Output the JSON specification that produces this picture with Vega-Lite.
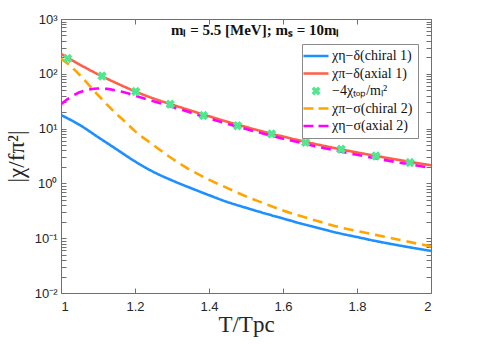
{
  "$schema": "https://vega.github.io/schema/vega-lite/v6.json",
  "width": 370,
  "height": 274,
  "autosize": "none",
  "padding": {"left": 61, "top": 19, "right": 60, "bottom": 51},
  "background": "white",
  "config": {
    "view": {"stroke": null},
    "axis": {"domainColor": "#707070", "tickColor": "#707070", "labelColor": "#262626", "labelFont": "Liberation Sans", "labelFontSize": 13, "titleFont": "Liberation Serif", "titleFontWeight": "normal", "titleColor": "#262626", "grid": false}
  },
  "title": {
    "text": "mₗ = 5.5 [MeV]; mₛ = 10mₗ",
    "font": "Liberation Serif",
    "fontSize": 15,
    "fontWeight": "bold",
    "color": "#111",
    "anchor": "start",
    "frame": "group",
    "dx": 110,
    "offset": -25
  },
  "data": {
    "values": [
      {"s": "chiral 1", "x": 1.00, "y": 17.7},
      {"s": "chiral 1", "x": 1.05, "y": 11.7},
      {"s": "chiral 1", "x": 1.10, "y": 7.0},
      {"s": "chiral 1", "x": 1.15, "y": 4.2},
      {"s": "chiral 1", "x": 1.20, "y": 2.52},
      {"s": "chiral 1", "x": 1.25, "y": 1.62},
      {"s": "chiral 1", "x": 1.30, "y": 1.135},
      {"s": "chiral 1", "x": 1.35, "y": 0.826},
      {"s": "chiral 1", "x": 1.40, "y": 0.61},
      {"s": "chiral 1", "x": 1.45, "y": 0.457},
      {"s": "chiral 1", "x": 1.50, "y": 0.359},
      {"s": "chiral 1", "x": 1.55, "y": 0.285},
      {"s": "chiral 1", "x": 1.60, "y": 0.229},
      {"s": "chiral 1", "x": 1.65, "y": 0.184},
      {"s": "chiral 1", "x": 1.70, "y": 0.151},
      {"s": "chiral 1", "x": 1.75, "y": 0.124},
      {"s": "chiral 1", "x": 1.80, "y": 0.105},
      {"s": "chiral 1", "x": 1.85, "y": 0.089},
      {"s": "chiral 1", "x": 1.90, "y": 0.0767},
      {"s": "chiral 1", "x": 1.95, "y": 0.0668},
      {"s": "chiral 1", "x": 2.00, "y": 0.0586},
      {"s": "axial 1", "x": 1.00, "y": 230},
      {"s": "axial 1", "x": 1.05, "y": 148},
      {"s": "axial 1", "x": 1.10, "y": 98},
      {"s": "axial 1", "x": 1.15, "y": 67.6},
      {"s": "axial 1", "x": 1.20, "y": 47.9},
      {"s": "axial 1", "x": 1.25, "y": 35.5},
      {"s": "axial 1", "x": 1.30, "y": 27.4},
      {"s": "axial 1", "x": 1.35, "y": 21.4},
      {"s": "axial 1", "x": 1.40, "y": 16.8},
      {"s": "axial 1", "x": 1.45, "y": 13.3},
      {"s": "axial 1", "x": 1.50, "y": 10.7},
      {"s": "axial 1", "x": 1.55, "y": 8.7},
      {"s": "axial 1", "x": 1.60, "y": 7.16},
      {"s": "axial 1", "x": 1.65, "y": 5.96},
      {"s": "axial 1", "x": 1.70, "y": 5.01},
      {"s": "axial 1", "x": 1.75, "y": 4.27},
      {"s": "axial 1", "x": 1.80, "y": 3.67},
      {"s": "axial 1", "x": 1.85, "y": 3.18},
      {"s": "axial 1", "x": 1.90, "y": 2.77},
      {"s": "axial 1", "x": 1.95, "y": 2.43},
      {"s": "axial 1", "x": 2.00, "y": 2.14},
      {"s": "top", "x": 1.018, "y": 190},
      {"s": "top", "x": 1.111, "y": 91},
      {"s": "top", "x": 1.202, "y": 47.5},
      {"s": "top", "x": 1.295, "y": 27.9},
      {"s": "top", "x": 1.385, "y": 17.3},
      {"s": "top", "x": 1.477, "y": 11.3},
      {"s": "top", "x": 1.569, "y": 8.0},
      {"s": "top", "x": 1.661, "y": 5.6},
      {"s": "top", "x": 1.757, "y": 4.2},
      {"s": "top", "x": 1.851, "y": 3.17},
      {"s": "top", "x": 1.943, "y": 2.4},
      {"s": "chiral 2", "x": 1.00, "y": 190},
      {"s": "chiral 2", "x": 1.025, "y": 140},
      {"s": "chiral 2", "x": 1.05, "y": 96},
      {"s": "chiral 2", "x": 1.075, "y": 63},
      {"s": "chiral 2", "x": 1.10, "y": 41},
      {"s": "chiral 2", "x": 1.125, "y": 27},
      {"s": "chiral 2", "x": 1.15, "y": 18.5},
      {"s": "chiral 2", "x": 1.175, "y": 13},
      {"s": "chiral 2", "x": 1.20, "y": 9.0},
      {"s": "chiral 2", "x": 1.25, "y": 5.0},
      {"s": "chiral 2", "x": 1.30, "y": 2.85},
      {"s": "chiral 2", "x": 1.35, "y": 1.75},
      {"s": "chiral 2", "x": 1.40, "y": 1.17},
      {"s": "chiral 2", "x": 1.45, "y": 0.82},
      {"s": "chiral 2", "x": 1.50, "y": 0.58},
      {"s": "chiral 2", "x": 1.55, "y": 0.43},
      {"s": "chiral 2", "x": 1.60, "y": 0.32},
      {"s": "chiral 2", "x": 1.65, "y": 0.251},
      {"s": "chiral 2", "x": 1.70, "y": 0.20},
      {"s": "chiral 2", "x": 1.75, "y": 0.16},
      {"s": "chiral 2", "x": 1.80, "y": 0.135},
      {"s": "chiral 2", "x": 1.85, "y": 0.115},
      {"s": "chiral 2", "x": 1.90, "y": 0.098},
      {"s": "chiral 2", "x": 1.95, "y": 0.083},
      {"s": "chiral 2", "x": 2.00, "y": 0.071},
      {"s": "axial 2", "x": 1.00, "y": 28},
      {"s": "axial 2", "x": 1.025, "y": 37},
      {"s": "axial 2", "x": 1.05, "y": 46},
      {"s": "axial 2", "x": 1.075, "y": 51.5},
      {"s": "axial 2", "x": 1.10, "y": 54},
      {"s": "axial 2", "x": 1.125, "y": 53},
      {"s": "axial 2", "x": 1.15, "y": 49.5},
      {"s": "axial 2", "x": 1.175, "y": 45},
      {"s": "axial 2", "x": 1.20, "y": 40},
      {"s": "axial 2", "x": 1.25, "y": 31.5},
      {"s": "axial 2", "x": 1.30, "y": 25},
      {"s": "axial 2", "x": 1.35, "y": 19.6},
      {"s": "axial 2", "x": 1.40, "y": 15.4},
      {"s": "axial 2", "x": 1.45, "y": 12.2},
      {"s": "axial 2", "x": 1.50, "y": 9.8},
      {"s": "axial 2", "x": 1.55, "y": 8.0},
      {"s": "axial 2", "x": 1.60, "y": 6.55},
      {"s": "axial 2", "x": 1.65, "y": 5.45},
      {"s": "axial 2", "x": 1.70, "y": 4.57},
      {"s": "axial 2", "x": 1.75, "y": 3.88},
      {"s": "axial 2", "x": 1.80, "y": 3.32},
      {"s": "axial 2", "x": 1.85, "y": 2.87},
      {"s": "axial 2", "x": 1.90, "y": 2.49},
      {"s": "axial 2", "x": 1.95, "y": 2.18},
      {"s": "axial 2", "x": 2.00, "y": 1.92}
    ]
  },
  "resolve": {"axis": {"x": "independent", "y": "independent"}},
  "layer": [
    {
      "transform": [{"filter": "datum.s !== 'top'"}],
      "mark": {"type": "line", "strokeWidth": 2.6, "interpolate": "monotone", "clip": true},
      "encoding": {
        "x": {
          "field": "x", "type": "quantitative",
          "scale": {"domain": [1, 2], "nice": false, "zero": false},
          "axis": {
            "orient": "bottom", "values": [1, 1.2, 1.4, 1.6, 1.8, 2], "format": "~g",
            "tickSize": -5, "labelPadding": 12, "title": "T/Tpc", "titleFontSize": 23, "titlePadding": 0
          }
        },
        "y": {
          "field": "y", "type": "quantitative",
          "scale": {"type": "log", "domain": [0.01, 1000], "nice": false},
          "axis": {
            "orient": "left",
            "values": [0.01, 0.02, 0.03, 0.04, 0.05, 0.06, 0.07, 0.08, 0.09, 0.1, 0.2, 0.3, 0.4, 0.5, 0.6, 0.7, 0.8, 0.9, 1, 2, 3, 4, 5, 6, 7, 8, 9, 10, 20, 30, 40, 50, 60, 70, 80, 90, 100, 200, 300, 400, 500, 600, 700, 800, 900, 1000],
            "labelExpr": "abs(log(datum.value)/LN10 - round(log(datum.value)/LN10)) < 0.000001 ? ['10⁻²','10⁻¹','10⁰','10¹','10²','10³'][round(log(datum.value)/LN10) + 2] : ''",
            "labelOverlap": false,
            "tickSize": -5, "labelPadding": 9,
            "title": "|χ/fπ²|", "titleFontSize": 23, "titlePadding": 6,
            "encode": {"ticks": {"update": {"x2": {"signal": "abs(log(datum.value)/LN10 - round(log(datum.value)/LN10)) < 0.000001 ? 5 : 3"}}}}
          }
        },
        "color": {
          "field": "s", "type": "nominal",
          "scale": {"domain": ["chiral 1", "axial 1", "top", "chiral 2", "axial 2"], "range": ["#1e8fff", "#ff5e48", "#4fe890", "#ffa500", "#ff00ff"]},
          "legend": {
            "orient": "none", "legendX": 241, "legendY": 25,
            "title": null,
            "labelExpr": "{'chiral 1': 'χη−δ(chiral 1)', 'axial 1': 'χπ−δ(axial 1)', 'top': '−4χₜₒₚ/mₗ²', 'chiral 2': 'χπ−σ(chiral 2)', 'axial 2': 'χη−σ(axial 2)'}[datum.value]",
            "labelFont": "Liberation Serif", "labelFontSize": 14, "labelColor": "#111",
            "symbolSize": 196, "symbolStrokeWidth": 2.6, "symbolOffset": 2, "labelOffset": 9,
            "rowPadding": 3.5, "padding": 5,
            "fillColor": "white", "strokeColor": "#8a8a8a",
            "encode": {
              "symbols": {
                "update": {
                  "shape": {"signal": "datum.value === 'top' ? 'cross' : 'stroke'"},
                  "size": {"signal": "datum.value === 'top' ? 80 : 625"},
                  "angle": {"signal": "datum.value === 'top' ? 45 : 0"},
                  "fill": {"signal": "datum.value === 'top' ? '#4fe890' : 'transparent'"},
                  "strokeDash": {"signal": "(datum.value === 'chiral 2' || datum.value === 'axial 2') ? [10, 5] : [1, 0]"},
                  "strokeWidth": {"signal": "datum.value === 'top' ? 0 : 2.6"}
                }
              }
            }
          }
        },
        "strokeDash": {
          "field": "s", "type": "nominal",
          "scale": {"domain": ["chiral 1", "axial 1", "chiral 2", "axial 2"], "range": [[1, 0], [1, 0], [10, 6], [10, 6]]},
          "legend": null
        }
      }
    },
    {
      "transform": [{"filter": "datum.s === 'top'"}],
      "mark": {"type": "point", "shape": "cross", "angle": 45, "filled": true, "size": 90, "opacity": 1, "strokeWidth": 0},
      "encoding": {
        "x": {
          "field": "x", "type": "quantitative",
          "axis": {"orient": "top", "values": [1, 1.2, 1.4, 1.6, 1.8, 2], "labels": false, "tickSize": -5, "title": null}
        },
        "y": {
          "field": "y", "type": "quantitative",
          "axis": {
            "orient": "right", "labels": false, "title": null, "tickSize": -5,
            "values": [0.01, 0.02, 0.03, 0.04, 0.05, 0.06, 0.07, 0.08, 0.09, 0.1, 0.2, 0.3, 0.4, 0.5, 0.6, 0.7, 0.8, 0.9, 1, 2, 3, 4, 5, 6, 7, 8, 9, 10, 20, 30, 40, 50, 60, 70, 80, 90, 100, 200, 300, 400, 500, 600, 700, 800, 900, 1000],
            "encode": {"ticks": {"update": {"x2": {"signal": "abs(log(datum.value)/LN10 - round(log(datum.value)/LN10)) < 0.000001 ? -5 : -3"}}}}
          }
        },
        "color": {"field": "s", "type": "nominal"}
      }
    }
  ]
}
